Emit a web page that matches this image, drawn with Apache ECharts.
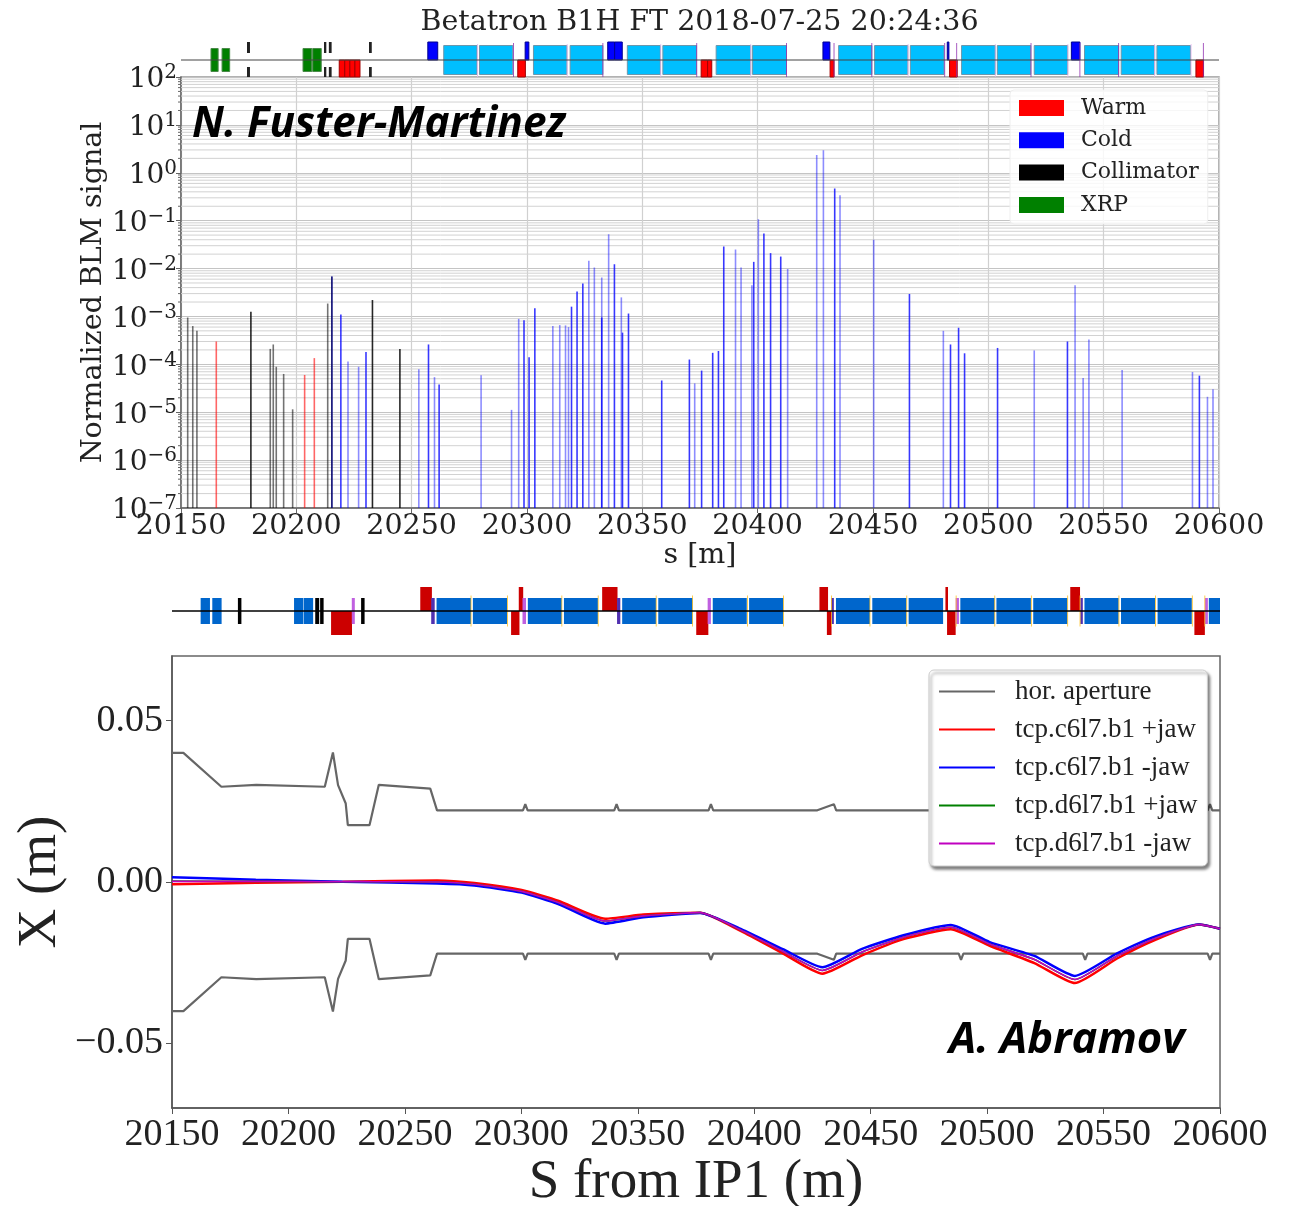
<!DOCTYPE html>
<html><head><meta charset="utf-8">
<style>html,body{margin:0;padding:0;background:#fff}#c{width:1291px;height:1206px}</style>
<script src="https://cdn.jsdelivr.net/npm/echarts@6/dist/echarts.min.js"></script>
</head><body><div id="c"></div>
<script>
// ---- BLM signal, [s, normalized signal] ----
const warmLoss=[[20165.3,3.0e-4],[20203.6,6.0e-5],[20207.8,1.35e-4]];
const collimatorLight=[[20152.9,9.5e-4],[20155.1,6.3e-4],[20156.9,5.0e-4],[20188.7,2.1e-4],[20190,2.6e-4],[20191.3,8.9e-5],[20194.5,6.3e-5],[20198.4,1.15e-5],[20213.6,1.86e-3],[20215.4,6.8e-3]];
const collimatorStrong=[[20180.3,1.26e-3],[20233,2.2e-3],[20244.9,2.1e-4]];
const coldStrong=[[20215.4,6.8e-3],[20219.3,1.1e-3],[20230.2,1.8e-4],[20257.3,2.6e-4],[20261.9,3.8e-5],[20298.7,8.3e-4],[20300.9,1.4e-4],[20303.4,1.48e-3],[20319.3,1.6e-3],[20321.7,3.3e-3],[20324.2,4.9e-3],[20332.4,9.5e-4],[20337.9,1.23e-2],[20341.4,4.6e-4],[20344,1.15e-3],[20358.4,4.6e-5],[20370.4,1.26e-4],[20375.7,7.4e-5],[20380.5,1.74e-4],[20383,1.9e-4],[20385.3,2.9e-2],[20398.3,1.38e-2],[20402.7,5.4e-2],[20405.6,2.1e-2],[20410,1.78e-2],[20433.4,0.47],[20465.8,2.95e-3],[20483.6,2.6e-4],[20487.1,5.8e-4],[20489.7,1.7e-4],[20504,2.2e-4],[20534.3,3.0e-4],[20591.5,5.8e-5]];
const coldLight=[[20222.4,1.15e-4],[20227,8.9e-5],[20253.1,7.9e-5],[20259.9,5.4e-5],[20280.1,5.9e-5],[20293.3,1.12e-5],[20296.4,8.9e-4],[20311.2,6.3e-4],[20314.2,6.6e-4],[20316.7,6.5e-4],[20318,6.0e-4],[20326.8,1.45e-2],[20329.2,1.05e-2],[20332.4,6.5e-3],[20335.4,5.2e-2],[20340.9,2.5e-3],[20372.7,4.0e-5],[20390.4,2.5e-2],[20392.8,1.05e-2],[20397.5,4.5e-3],[20400.3,0.107],[20413,9.8e-3],[20425.6,2.34],[20428.5,2.95],[20435.7,0.34],[20450.3,4.0e-2],[20480.5,5.0e-4],[20519.9,1.95e-4],[20537.6,4.5e-3],[20541.1,5.2e-5],[20543.6,3.3e-4],[20558,7.6e-5],[20588.5,6.9e-5],[20595,2.1e-5],[20597.4,3.0e-5]];
const xrpLoss=[];
// ---- Layout strip above BLM plot, [s start, s end] ----
const topGreen=[[20163,20166.1],[20167.8,20171.1],[20202.9,20206.7],[20207.1,20210.8]];
const topCollimators=[[20178.6,20179.9],[20212,20213],[20214.1,20215.3],[20231.5,20232.7]];
const topRed=[[20218.6,20221],[20221,20223.2],[20223.2,20225.4],[20225.4,20227.6],[20296,20299.3],[20375.5,20378.3],[20378.3,20380.1],[20431.4,20433.1],[20483.2,20486.5],[20590,20593.3]];
const topBlue=[[20257,20261.3],[20299.2,20300.8],[20335,20338],[20338,20341.3],[20428.3,20431.3],[20482.2,20482.9],[20536,20539.7]];
const topDipoles=[[20263.9,20278.3],[20279.4,20293.8],[20302.8,20317.3],[20318.7,20332.9],[20343.5,20357.8],[20358.9,20373.5],[20382,20397],[20397.8,20412.5],[20435.1,20449.5],[20450.7,20465.1],[20466.2,20480.8],[20488.4,20503],[20503.9,20518.4],[20519.9,20534.4],[20541.7,20556.5],[20557.6,20572.1],[20573.1,20587.6]];
const topPurple=[20294.1,20332.9,20373.6,20412.5,20433.1,20449.5,20481.1,20486.3,20518.5,20539.7,20556.5,20593.2];
const topPink=[20278.5,20317.4,20358,20397,20465.2,20503,20534.5,20572.1,20587.9];
// ---- Layout strip above orbit plot ----
const botDipoles=[[20162.3,20166.3],[20167.3,20171.3],[20202.4,20206.4],[20206.6,20210.6],[20263.6,20278.4],[20279.2,20293.9],[20302.8,20317.4],[20318.3,20332.9],[20343.3,20357.9],[20358.8,20373.6],[20382.2,20396.8],[20397.8,20412.5],[20435.1,20449.7],[20450.7,20465.4],[20466.3,20481.1],[20488.5,20503.3],[20504,20518.8],[20519.8,20534.5],[20541.8,20556.5],[20557.5,20572.2],[20573.2,20587.9],[20595.2,20600]];
const botCollimators=[[20178.3,20179.8],[20211.5,20213.2],[20213.6,20215.1],[20231.2,20232.7]];
const botRedBelow=[[20218.3,20227.3],[20295.6,20299.2],[20375.1,20380.3],[20431.2,20433.2],[20482.8,20486.5],[20589,20593.5]];
const botRedAbove=[[20256.6,20261.6],[20298.9,20300.8],[20334.7,20341.3],[20428,20431.7],[20482.1,20483.2],[20535.7,20539.9]];
const botLightPurple=[[20227.2,20228.5],[20300.5,20302],[20380,20381.4],[20486.5,20487.9],[20593.5,20594.8]];
const botIndigo=[[20261.3,20262.8],[20341.1,20342.5],[20433,20434.2],[20540,20541.1]];
const botYellow=[20278.4,20294.1,20317.4,20333,20357.9,20373.5,20397.1,20412.6,20433.2,20449.7,20465.5,20486.7,20503.3,20519,20534.6,20539.9,20556.6,20572.3,20588.1,20593.5];
// ---- Aperture and orbit ----
const apertureS=[20150,20154.9,20171.2,20186.2,20215.6,20219.1,20221.3,20224.6,20225.5,20234.8,20238.8,20260.9,20263.8,20300.7,20301.7,20302.7,20339.9,20340.9,20341.9,20380.4,20381.4,20382.4,20427.1,20434.2,20435.2,20487.8,20488.8,20489.8,20541.1,20542.1,20543.1,20594.7,20595.7,20596.7,20600];
const apertureUpper=[0.04,0.04,0.0295,0.0301,0.0295,0.0401,0.03,0.0243,0.0176,0.0176,0.0301,0.0289,0.0222,0.0222,0.0241,0.0222,0.0222,0.0241,0.0222,0.0222,0.0241,0.0222,0.0222,0.0241,0.0222,0.0222,0.0241,0.0222,0.0222,0.0241,0.0222,0.0222,0.0241,0.0222,0.0222];
const apertureLower=[-0.04,-0.04,-0.0295,-0.0301,-0.0295,-0.0401,-0.03,-0.0243,-0.0176,-0.0176,-0.0301,-0.0289,-0.0222,-0.0222,-0.0241,-0.0222,-0.0222,-0.0241,-0.0222,-0.0222,-0.0241,-0.0222,-0.0222,-0.0241,-0.0222,-0.0222,-0.0241,-0.0222,-0.0222,-0.0241,-0.0222,-0.0222,-0.0241,-0.0222,-0.0222];
const orbitS=[20150,20186,20223.2,20263.8,20279.8,20300.1,20316.1,20336,20352.4,20376.8,20394.6,20412.3,20429.3,20446.3,20464.1,20484.4,20501.1,20520.3,20537.7,20555.8,20572,20591,20600];
const c6Plus=[-0.0007,-0.0002,0.0001,0.0005,-0.0003,-0.0025,-0.0059,-0.0114,-0.0101,-0.0095,-0.0153,-0.0221,-0.0284,-0.0227,-0.0177,-0.0146,-0.0198,-0.0251,-0.0313,-0.0237,-0.018,-0.0132,-0.0145];
const c6Minus=[0.00145,0.0007,0.0001,-0.0005,-0.0011,-0.0033,-0.0069,-0.0129,-0.0109,-0.0096,-0.0147,-0.0208,-0.0264,-0.0207,-0.0165,-0.0133,-0.0186,-0.0229,-0.0291,-0.0221,-0.0169,-0.0132,-0.0145];
const d6Plus=[0.0003,0.0002,0.0001,0,-0.0007,-0.0029,-0.0064,-0.0121,-0.0105,-0.0095,-0.015,-0.0215,-0.0274,-0.0217,-0.0171,-0.014,-0.0192,-0.024,-0.0302,-0.0229,-0.0175,-0.0132,-0.0145];
const d6Minus=[0.0002,0.0002,0.0001,0,-0.0007,-0.0029,-0.0064,-0.0121,-0.0105,-0.0095,-0.015,-0.0215,-0.0274,-0.0217,-0.0171,-0.014,-0.0192,-0.024,-0.0302,-0.0229,-0.0175,-0.0132,-0.0145];

const SERIF1='"DejaVu Serif"', SERIF2='"Liberation Serif"';
const zip=(xs,ys)=>xs.map((x,i)=>[x,ys[i]]);
const sp=a=>a.map(s=>[s-0.17,s+0.17]);

function strip(g,data,lo,hi,color,stroke,z){
  return {type:'custom',coordinateSystem:'cartesian2d',xAxisIndex:g,yAxisIndex:g,silent:true,z:z||3,
    data:data,encode:{x:[0,1]},
    renderItem:(p,api)=>{
      const a=api.coord([api.value(0),hi]),b=api.coord([api.value(1),lo]);
      return {type:'rect',shape:{x:a[0],y:a[1],width:b[0]-a[0],height:b[1]-a[1]},
        style:{fill:color,stroke:stroke||null,lineWidth:stroke?1:0}};
    }};
}
// narrow loss bars rising from the bottom of the log axis
function blm(name,data,color){
  return {type:'custom',coordinateSystem:'cartesian2d',name:name,xAxisIndex:0,yAxisIndex:0,data:data,encode:{x:0,y:1},
    itemStyle:{color:color},z:4,silent:true,
    renderItem:(p,api)=>{
      const a=api.coord([api.value(0),api.value(1)]),b=api.coord([api.value(0),1e-7]);
      return {type:'rect',shape:{x:a[0]-0.8,y:a[1],width:1.6,height:b[1]-a[1]},style:{fill:color}};
    }};
}
// minor log grid lines (2..9 in each decade)
const minorVals=[];
for(let d=-7;d<2;d++)for(let m=2;m<10;m++)minorVals.push([20150,m*Math.pow(10,d)]);
const minorGrid={type:'custom',coordinateSystem:'cartesian2d',xAxisIndex:0,yAxisIndex:0,silent:true,z:1,clip:false,
  data:minorVals,encode:{x:0,y:1},
  renderItem:(p,api)=>{
    const a=api.coord([20150,api.value(1)]),b=api.coord([20600,api.value(1)]);
    return {type:'group',children:[
      {type:'line',shape:{x1:a[0],y1:a[1],x2:b[0],y2:b[1]},style:{stroke:'#d2d2d2',lineWidth:1}},
      {type:'line',shape:{x1:a[0]-3,y1:a[1],x2:a[0],y2:a[1]},style:{stroke:'#666',lineWidth:1}}]};
  }};
const hiddenAxis=(g,min,max)=>({gridIndex:g,type:'value',min:min,max:max,show:false});
const orbitLine=(name,data,color,w,z)=>({type:'line',name:name,xAxisIndex:2,yAxisIndex:2,data:data,showSymbol:false,silent:true,smooth:0.18,itemStyle:{color:color},lineStyle:{color:color,width:w},z:z});

const option={
  animation:false,backgroundColor:'#fff',
  title:[
    {text:'Betatron B1H FT 2018-07-25 20:24:36',left:694.5,top:3,textAlign:'center',textStyle:{fontFamily:SERIF1,fontWeight:'normal',fontSize:28.5,color:'#222'}},
    {text:'N. Fuster-Martinez',left:187,top:99,textStyle:{fontFamily:'"Open Sans"',fontWeight:'bold',fontStyle:'italic',fontSize:42.3,color:'#000'}},
    {text:'A. Abramov',left:944,top:1014,textStyle:{fontFamily:'"Open Sans"',fontWeight:'bold',fontStyle:'italic',fontSize:43.5,color:'#000'}}
  ],
  legend:[
    {data:[{name:'Warm',itemStyle:{color:'#f00'}},{name:'Cold',itemStyle:{color:'#00f'}},{name:'Collimator',itemStyle:{color:'#000'}},{name:'XRP',itemStyle:{color:'#008000'}}],
     orient:'vertical',left:1010,top:90,itemWidth:45,itemHeight:16,itemGap:10.3,padding:[7,9,8,9],icon:'rect',selectedMode:false,
     backgroundColor:'rgba(255,255,255,0.82)',borderColor:'#eee',borderWidth:1,borderRadius:4,
     textStyle:{fontFamily:SERIF1,fontSize:22,color:'#222',padding:[0,0,0,12]}},
    {data:['hor. aperture','tcp.c6l7.b1 +jaw','tcp.c6l7.b1 -jaw','tcp.d6l7.b1 +jaw','tcp.d6l7.b1 -jaw'],
     orient:'vertical',left:929,top:670,itemWidth:56,itemHeight:2,itemGap:11,padding:[8,10,9,10],icon:'rect',selectedMode:false,
     backgroundColor:'#fff',borderColor:'#ccc',borderWidth:1,borderRadius:5,
     shadowColor:'rgba(0,0,0,0.5)',shadowBlur:3,shadowOffsetX:2,shadowOffsetY:3,
     textStyle:{fontFamily:SERIF2,fontSize:27,color:'#222',padding:[0,0,0,15]}}
  ],
  grid:[
    {left:181,top:77,width:1038,height:431,show:true,borderColor:'#999',borderWidth:1.5,backgroundColor:'#fff',outerBoundsMode:'none'},
    {left:181,top:40,width:1038,height:40,outerBoundsMode:'none'},
    {left:172,top:656,width:1048,height:452,show:true,borderColor:'#666',borderWidth:1.5,outerBoundsMode:'none'},
    {left:172,top:585,width:1048,height:52,outerBoundsMode:'none'}
  ],
  xAxis:[
    {gridIndex:0,type:'value',min:20150,max:20600,interval:50,nameMoveOverlap:false,
     name:'s [m]',nameLocation:'middle',nameGap:33,nameTextStyle:{fontFamily:SERIF1,fontSize:28.5,color:'#222'},
     axisLine:{onZero:false,lineStyle:{color:'#666',width:1.5}},axisTick:{show:true,length:5,lineStyle:{color:'#666'}},
     splitLine:{show:true,lineStyle:{color:'#d0d0d0',width:1.2}},
     axisLabel:{fontFamily:SERIF1,fontSize:28.5,color:'#222',margin:4,formatter:v=>String(v),hideOverlap:false}},
    hiddenAxis(1,20150,20600),
    {gridIndex:2,type:'value',min:20150,max:20600,interval:50,nameMoveOverlap:false,
     name:'S from IP1 (m)',nameLocation:'middle',nameGap:47,nameTextStyle:{fontFamily:SERIF2,fontSize:55,color:'#222'},
     axisLine:{onZero:false,lineStyle:{color:'#555',width:1.5}},axisTick:{show:true,length:6,lineStyle:{color:'#555'}},splitLine:{show:false},
     axisLabel:{fontFamily:SERIF2,fontSize:38,color:'#222',margin:8,formatter:v=>String(v),hideOverlap:false}},
    hiddenAxis(3,20150,20600)
  ],
  yAxis:[
    {gridIndex:0,type:'log',logBase:10,min:1e-7,max:100,nameMoveOverlap:false,
     name:'Normalized BLM signal',nameLocation:'middle',nameRotate:90,nameGap:73,nameTextStyle:{fontFamily:SERIF1,fontSize:28.5,color:'#222'},
     axisLine:{show:true,onZero:false,lineStyle:{color:'#666',width:1.5}},axisTick:{show:true,length:5,lineStyle:{color:'#666'}},
     splitLine:{show:true,lineStyle:{color:'#c4c4c4',width:1.2}},
     axisLabel:{margin:4,hideOverlap:false,padding:[6,0,0,0],formatter:v=>{const k=Math.round(Math.log10(v));return '{b|10}{s|'+(k<0?'\u2212'+(-k):k)+'}';},
       rich:{b:{fontFamily:SERIF1,fontSize:28,color:'#222'},s:{fontFamily:SERIF1,fontSize:20,color:'#222',padding:[0,0,14,0]}}}},
    hiddenAxis(1,-20,20),
    {gridIndex:2,type:'value',min:-0.07,max:0.07,nameMoveOverlap:false,
     name:'X (m)',nameLocation:'middle',nameRotate:90,nameGap:104,nameTextStyle:{fontFamily:SERIF2,fontSize:55,color:'#222'},
     axisLine:{show:true,onZero:false,lineStyle:{color:'#555',width:1.5}},
     axisTick:{show:true,length:6,customValues:[-0.05,0,0.05],lineStyle:{color:'#555'}},splitLine:{show:false},
     axisLabel:{fontFamily:SERIF2,fontSize:38,color:'#222',margin:9,padding:[3,0,0,0],customValues:[-0.05,0,0.05],hideOverlap:false,
       formatter:v=>v<0?'\u2212'+Math.abs(v).toFixed(2):v.toFixed(2)}},
    hiddenAxis(3,-26,26)
  ],
  series:[
    minorGrid,
    blm('Warm',warmLoss,'rgba(255,0,0,0.6)'),
    blm('Cold',coldLight,'rgba(0,0,255,0.45)'),
    blm('Cold',coldStrong,'rgba(0,0,255,0.78)'),
    blm('Collimator',collimatorLight,'rgba(0,0,0,0.55)'),
    blm('Collimator',collimatorStrong,'rgba(0,0,0,0.85)'),
    blm('XRP',xrpLoss,'#008000'),
    // top layout strip
    strip(1,topDipoles,-14.5,14.5,'#00bfff','#6a97ad'),
    strip(1,topGreen,-11.5,11.5,'#008000','#4a8a4a'),
    strip(1,topCollimators,7,18,'#222'),
    strip(1,topCollimators,-17,-7,'#222'),
    strip(1,topRed,-17,0,'#f00','#a00000'),
    strip(1,topBlue,0,18,'#00f','#000090'),
    strip(1,sp(topPink),-17,16,'#e4b4ea'),
    strip(1,sp(topPurple),-17,17,'#9030b0'),
    strip(1,[[20150,20600]],-0.6,0.6,'#444',null,6),
    // bottom layout strip
    strip(3,botDipoles,-13,13,'#0066cc'),
    strip(3,botCollimators,-13,13,'#000'),
    strip(3,botRedBelow,-24,0,'#cc0000'),
    strip(3,botRedAbove,0,24,'#cc0000'),
    strip(3,botLightPurple,-13,13,'#c060e0'),
    strip(3,botIndigo,-13,13,'#5030b0'),
    strip(3,sp(botYellow),-15.5,15.5,'#ffc020'),
    strip(3,[[20150,20600]],-0.7,0.7,'#000',null,6),
    // orbit plot
    {type:'line',name:'hor. aperture',xAxisIndex:2,yAxisIndex:2,data:zip(apertureS,apertureUpper),showSymbol:false,silent:true,itemStyle:{color:'#666'},lineStyle:{color:'#666',width:2.2},z:3},
    {type:'line',name:'hor. aperture',xAxisIndex:2,yAxisIndex:2,data:zip(apertureS,apertureLower),showSymbol:false,silent:true,itemStyle:{color:'#666'},lineStyle:{color:'#666',width:2.2},z:3},
    orbitLine('tcp.c6l7.b1 +jaw',zip(orbitS,c6Plus),'#f00',2.5,4),
    orbitLine('tcp.c6l7.b1 -jaw',zip(orbitS,c6Minus),'#00f',2.5,4),
    orbitLine('tcp.d6l7.b1 +jaw',zip(orbitS,d6Plus),'#008000',1.6,4),
    orbitLine('tcp.d6l7.b1 -jaw',zip(orbitS,d6Minus),'#c000c0',1.6,4)
  ]
};
echarts.init(document.getElementById('c'),null,{renderer:'canvas'}).setOption(option);
</script></body></html>
